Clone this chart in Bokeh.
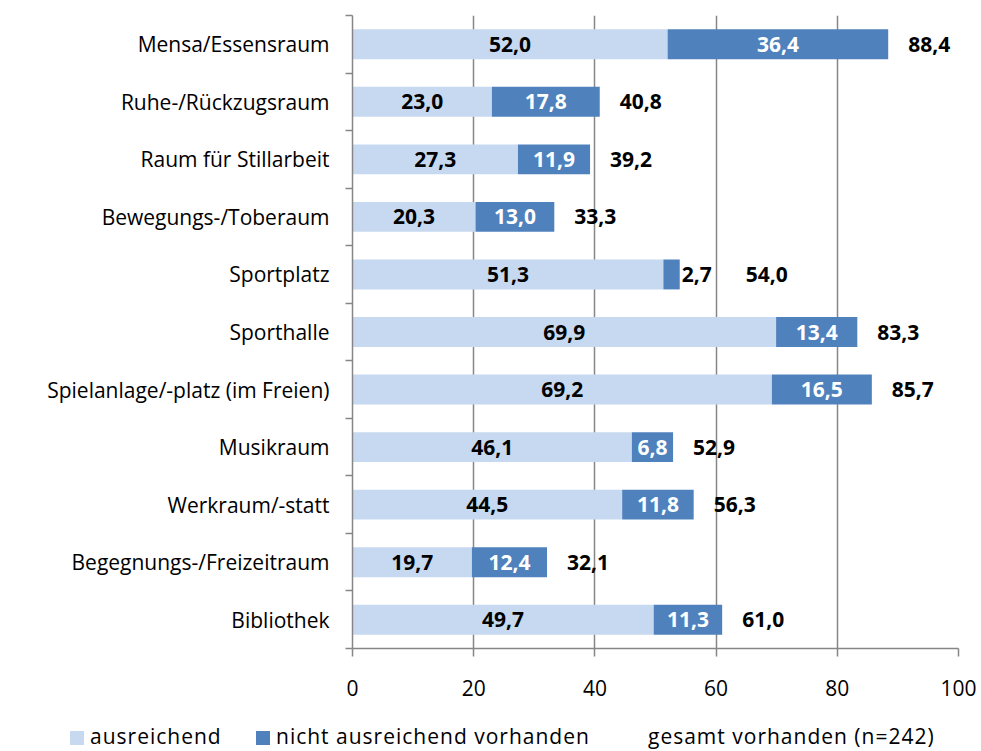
from bokeh.plotting import figure
from bokeh.layouts import column
from bokeh.models import ColumnDataSource, Range1d, FixedTicker, Div
from bokeh.core.properties import value
from bokeh.embed import file_html
from bokeh.resources import INLINE

categories = ["Mensa/Essensraum", "Ruhe-/Rückzugsraum", "Raum für Stillarbeit",
              "Bewegungs-/Toberaum", "Sportplatz", "Sporthalle",
              "Spielanlage/-platz (im Freien)", "Musikraum", "Werkraum/-statt",
              "Begegnungs-/Freizeitraum", "Bibliothek"]
ausreichend = [52.0, 23.0, 27.3, 20.3, 51.3, 69.9, 69.2, 46.1, 44.5, 19.7, 49.7]
nicht_ausreichend = [36.4, 17.8, 11.9, 13.0, 2.7, 13.4, 16.5, 6.8, 11.8, 12.4, 11.3]
gesamt = [88.4, 40.8, 39.2, 33.3, 54.0, 83.3, 85.7, 52.9, 56.3, 32.1, 61.0]
x_ticks = [0, 20, 40, 60, 80, 100]
legend_labels = ["ausreichend", "nicht ausreichend vorhanden", "gesamt vorhanden (n=242)"]

LIGHT = "#C6D9F1"
DARK = "#4F81BD"
GRID = "#868686"
FONT = "Open Sans"
FS = "21px"

n = len(categories)
ypos = [n - 1 - i for i in range(n)]


def fmt(v):
    return f"{v:.1f}".replace(".", ",")


src = ColumnDataSource(dict(
    y=ypos, a=ausreichend, b=nicht_ausreichend,
    ab=[a + b for a, b in zip(ausreichend, nicht_ausreichend)],
    zero=[0] * n,
))

p = figure(width=981, height=722, output_backend="svg", toolbar_location=None,
           x_range=Range1d(0, 100), y_range=Range1d(-0.5, n - 0.5),
           min_border_left=352, min_border_right=23, min_border_top=15,
           min_border_bottom=74)
p.outline_line_color = None
p.background_fill_color = "white"
p.border_fill_color = "white"

p.hbar(y="y", left="zero", right="a", height=0.52, source=src,
       fill_color=LIGHT, line_color=None)
p.hbar(y="y", left="a", right="ab", height=0.52, source=src,
       fill_color=DARK, line_color=None)

# value labels
lab_light = ColumnDataSource(dict(x=[a / 2 for a in ausreichend], y=ypos,
                                  t=[fmt(v) for v in ausreichend]))
p.text(x="x", y="y", text="t", source=lab_light, text_align="center",
       text_baseline="middle", text_font=value(FONT), text_font_style="bold",
       text_font_size=FS, text_color="black")

in_x, in_y, in_t, out_x, out_y, out_t = [], [], [], [], [], []
tot_x, tot_y, tot_t, tot_off = [], [], [], []
for a, b, g, y in zip(ausreichend, nicht_ausreichend, gesamt, ypos):
    if b >= 5:
        in_x.append(a + b / 2); in_y.append(y); in_t.append(fmt(b))
        tot_off.append(20)
    else:
        out_x.append(a + b); out_y.append(y); out_t.append(fmt(b))
        tot_off.append(66)
    tot_x.append(a + b); tot_y.append(y); tot_t.append(fmt(g))

p.text(x="x", y="y", text="t", source=ColumnDataSource(dict(x=in_x, y=in_y, t=in_t)),
       text_align="center", text_baseline="middle", text_font=value(FONT),
       text_font_style="bold", text_font_size=FS, text_color="white")
p.text(x="x", y="y", text="t", source=ColumnDataSource(dict(x=out_x, y=out_y, t=out_t)),
       text_align="left", text_baseline="middle", text_font=value(FONT), x_offset=2,
       text_font_style="bold", text_font_size=FS, text_color="black")
p.text(x="x", y="y", text="t", x_offset="o",
       source=ColumnDataSource(dict(x=tot_x, y=tot_y, t=tot_t, o=tot_off)),
       text_align="left", text_baseline="middle", text_font=value(FONT),
       text_font_style="bold", text_font_size=FS, text_color="black")

# axes
p.xaxis.ticker = FixedTicker(ticks=x_ticks)
p.xaxis.axis_line_color = GRID
p.xaxis.axis_line_width = 1.5
p.xaxis.major_tick_line_color = GRID
p.xaxis.major_tick_line_width = 1.5
p.xaxis.major_tick_out = 8
p.xaxis.major_tick_in = 0
p.xaxis.minor_tick_line_color = None
p.xaxis.major_label_text_font = FONT
p.xaxis.major_label_text_font_size = FS
p.xaxis.major_label_text_color = "black"
p.xaxis.major_label_standoff = 23

p.yaxis.ticker = FixedTicker(ticks=ypos, minor_ticks=[i - 0.5 for i in range(n + 1)])
p.yaxis.major_label_overrides = {y: c for y, c in zip(ypos, categories)}
p.yaxis.axis_line_color = GRID
p.yaxis.axis_line_width = 1.5
p.yaxis.major_tick_line_color = None
p.yaxis.major_tick_out = 0
p.yaxis.major_tick_in = 0
p.yaxis.minor_tick_line_color = GRID
p.yaxis.minor_tick_line_width = 1.5
p.yaxis.minor_tick_out = 7
p.yaxis.minor_tick_in = 0
p.yaxis.major_label_text_font = FONT
p.yaxis.major_label_text_font_size = FS
p.yaxis.major_label_text_color = "black"
p.yaxis.major_label_standoff = 16

p.xgrid.ticker = FixedTicker(ticks=x_ticks)
p.xgrid.grid_line_color = GRID
p.xgrid.grid_line_width = 1.5
p.ygrid.visible = False

# legend strip below the chart (HTML text)
swatches = [LIGHT, DARK, None]
lefts = [(70, 90), (256, 276), (628, 648)]
parts = []
for lab, col, (sx, tx) in zip(legend_labels, swatches, lefts):
    if col:
        parts.append(f'<span style="position:absolute;left:{sx}px;top:9px;width:14px;'
                     f'height:14px;background:{col};"></span>')
    parts.append(f'<span style="position:absolute;left:{tx}px;top:0px;height:29px;'
                 f'line-height:29px;letter-spacing:1px;white-space:nowrap;">{lab}</span>')
html = (f'<div style="position:relative;width:981px;height:29px;overflow:hidden;'
        f'font-family:\'Open Sans\';font-size:21px;color:black;">' + "".join(parts) + '</div>')
legend_div = Div(text=html, width=981, height=29, margin=(0, 0, 0, 0))

layout = column(p, legend_div, spacing=0)
open("out.html", "w").write(file_html(layout, INLINE))
